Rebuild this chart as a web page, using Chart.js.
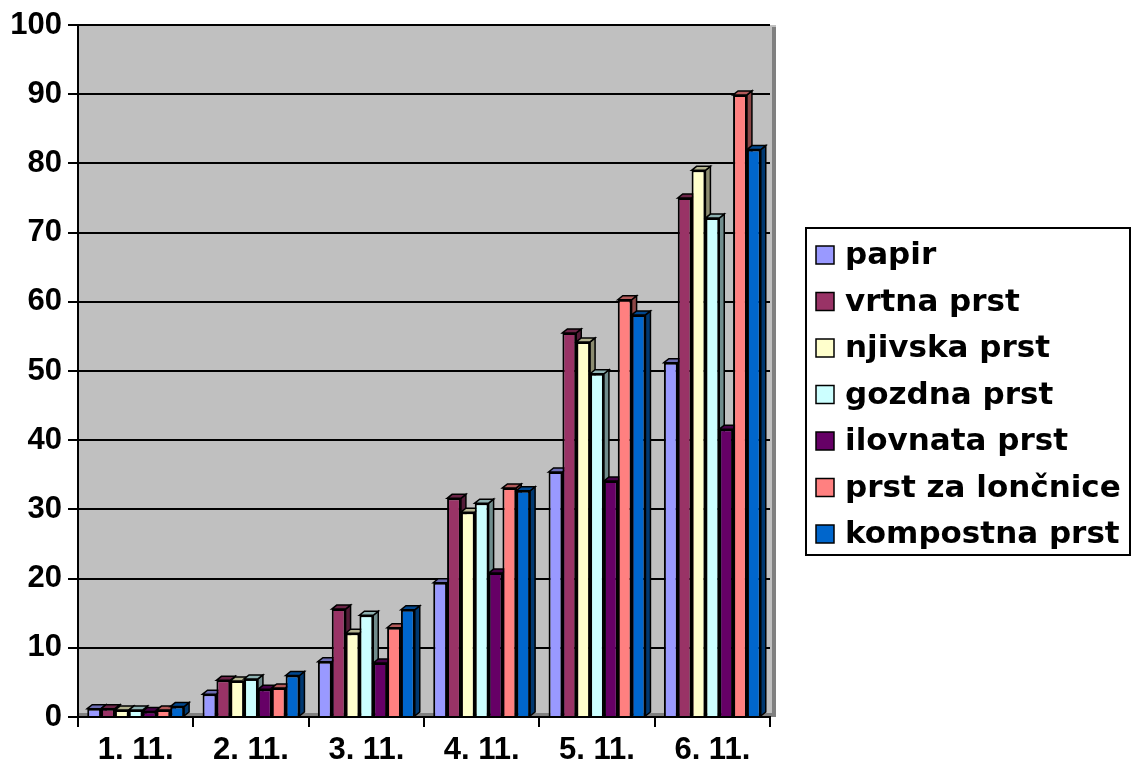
<!DOCTYPE html>
<html>
<head>
<meta charset="utf-8">
<script src="https://cdn.jsdelivr.net/npm/chart.js@4/dist/chart.umd.min.js"></script>
<style>
    html, body { margin: 0; padding: 0; background: #fff; }
</style>
</head>
<body>
<canvas id="chart" width="1132" height="771"></canvas>
<script>
// measurements per day
const days = ['1. 11.', '2. 11.', '3. 11.', '4. 11.', '5. 11.', '6. 11.'];
const papir = [1.2, 3.3, 8.0, 19.4, 35.4, 51.2];
const vrtnaPrst = [1.2, 5.3, 15.6, 31.6, 55.5, 75.0];
const njivskaPrst = [1.0, 5.2, 12.1, 29.6, 54.2, 79.0];
const gozdnaPrst = [1.0, 5.5, 14.7, 30.9, 49.6, 72.1];
const ilovnataPrst = [0.8, 4.0, 7.8, 20.8, 34.1, 41.6];
const loncnicePrst = [1.0, 4.2, 12.9, 33.1, 60.3, 89.9];
const kompostnaPrst = [1.5, 6.0, 15.5, 32.7, 58.1, 82.0];

const seriesNames = ['papir', 'vrtna prst', 'njivska prst', 'gozdna prst', 'ilovnata prst', 'prst za lončnice', 'kompostna prst'];
const seriesValues = [papir, vrtnaPrst, njivskaPrst, gozdnaPrst, ilovnataPrst, loncnicePrst, kompostnaPrst];
const seriesColors = ['#9999FF', '#993366', '#FFFFCC', '#CCFFFF', '#660066', '#FF8080', '#0066CC'];

const AXIS_FONT = { family: '"Liberation Sans", Arial, sans-serif', size: 31, weight: 'bold' };
const DEPTH_X = 5, DEPTH_Y = 4;

function shade(hex, f) {
    const n = parseInt(hex.slice(1), 16);
    const r = Math.round(((n >> 16) & 255) * f);
    const g = Math.round(((n >> 8) & 255) * f);
    const b = Math.round((n & 255) * f);
    return `rgb(${r},${g},${b})`;
}

// gray back wall behind the bars
const wallPlugin = {
    id: 'wall',
    beforeDraw(chart) {
        const { ctx, chartArea: a } = chart;
        ctx.save();
        ctx.fillStyle = '#C0C0C0';
        ctx.fillRect(a.left, a.top, a.right - a.left + 6, a.bottom - a.top);
        ctx.fillStyle = '#808080';
        ctx.fillRect(a.left, a.bottom - 4, a.right - a.left + 6, 4);
        ctx.fillRect(a.right + 2, a.top + 2, 4, a.bottom - a.top - 2);
        ctx.restore();
    }
};

// side and top faces, drawn before the bars so the next bar covers them
const depthPlugin = {
    id: 'depth',
    beforeDatasetsDraw(chart) {
        const ctx = chart.ctx;
        ctx.save();
        ctx.lineWidth = 1.5;
        ctx.strokeStyle = '#000';
        chart.data.datasets.forEach((ds, i) => {
            const meta = chart.getDatasetMeta(i);
            meta.data.forEach(bar => {
                const { x, y, base, width } = bar.getProps(['x', 'y', 'base', 'width'], true);
                const l = x - width / 2, r = x + width / 2;
                ctx.fillStyle = shade(ds.backgroundColor, 0.55);
                ctx.beginPath();
                ctx.moveTo(r, y);
                ctx.lineTo(r + DEPTH_X, y - DEPTH_Y);
                ctx.lineTo(r + DEPTH_X, base - DEPTH_Y);
                ctx.lineTo(r, base);
                ctx.closePath();
                ctx.fill();
                ctx.stroke();
                ctx.fillStyle = shade(ds.backgroundColor, 0.7);
                ctx.beginPath();
                ctx.moveTo(l, y);
                ctx.lineTo(l + DEPTH_X, y - DEPTH_Y);
                ctx.lineTo(r + DEPTH_X, y - DEPTH_Y);
                ctx.lineTo(r, y);
                ctx.closePath();
                ctx.fill();
                ctx.stroke();
            });
        });
        ctx.restore();
    }
};

// boxed legend on the right
const boxLegendPlugin = {
    id: 'boxLegend',
    afterDraw(chart) {
        const ctx = chart.ctx;
        const left = 806, top = 228, w = 324, h = 327;
        ctx.save();
        ctx.fillStyle = '#fff';
        ctx.fillRect(left, top, w, h);
        ctx.lineWidth = 2;
        ctx.strokeStyle = '#000';
        ctx.strokeRect(left, top, w, h);
        ctx.font = 'bold 31px "DejaVu Sans", Verdana, sans-serif';
        ctx.textBaseline = 'middle';
        chart.data.datasets.forEach((ds, i) => {
            const cy = 255 + i * 46.5;
            ctx.fillStyle = ds.backgroundColor;
            ctx.fillRect(816, cy - 9, 18, 18);
            ctx.lineWidth = 1.5;
            ctx.strokeRect(816, cy - 9, 18, 18);
            ctx.fillStyle = '#000';
            ctx.fillText(ds.label, 845, cy + 1);
        });
        ctx.restore();
    }
};

const ctx = document.getElementById('chart').getContext('2d');
const myChart = new Chart(ctx, {
    type: 'bar',
    data: {
        labels: days,
        datasets: seriesNames.map((name, i) => ({
            label: name,
            data: seriesValues[i],
            backgroundColor: seriesColors[i],
            borderColor: '#000',
            borderWidth: 2,
            borderSkipped: 'bottom',
            barPercentage: 1.0,
            categoryPercentage: 0.84,
        }))
    },
    options: {
        responsive: false,
        animation: false,
        layout: { padding: { top: 25, right: 362, bottom: 0, left: 0 } },
        plugins: {
            legend: { display: false },
            tooltip: { enabled: false },
        },
        scales: {
            x: {
                grid: { display: true, offset: true, drawOnChartArea: false, drawTicks: true, tickLength: 10, color: '#000', lineWidth: 2 },
                border: { display: true, color: '#000', width: 2 },
                ticks: { color: '#000', font: AXIS_FONT, padding: 5 },
                afterFit(scale) { scale.height = 54; },
            },
            y: {
                min: 0,
                max: 100,
                grid: { color: '#000', lineWidth: 2, tickLength: 10 },
                border: { display: true, color: '#000', width: 2 },
                ticks: { stepSize: 10, color: '#000', font: AXIS_FONT, padding: 6 },
                afterFit(scale) { scale.width = 78; },
            }
        }
    },
    plugins: [wallPlugin, depthPlugin, boxLegendPlugin]
});
</script>
</body>
</html>
